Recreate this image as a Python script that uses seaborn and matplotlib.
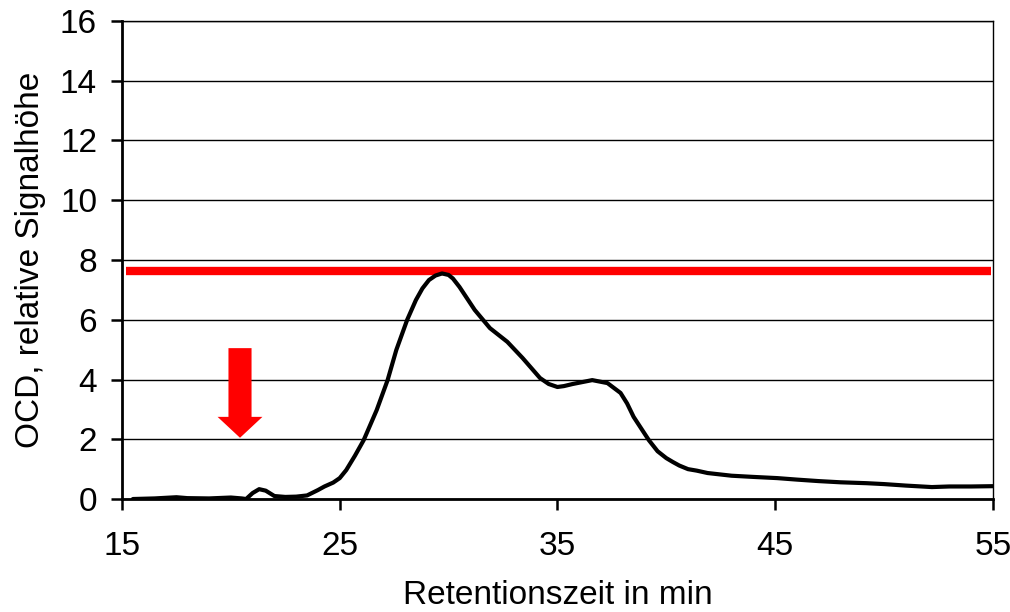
import matplotlib
matplotlib.use("Agg")
import matplotlib.pyplot as plt
import seaborn as sns
import pandas as pd
from matplotlib.patches import Polygon

# ---- data ----
retention_min = [15.5, 16.5, 17.5, 18.0, 19.0, 20.0, 20.5, 20.7, 21.0, 21.3, 21.6, 22.0,
                 22.5, 23.0, 23.5, 24.0, 24.3, 24.7, 25.0, 25.3, 25.7, 26.1, 26.7, 27.2,
                 27.6, 28.1, 28.5, 28.8, 29.1, 29.4, 29.7, 30.0, 30.2, 30.5, 31.2, 31.9,
                 32.7, 33.4, 34.2, 34.6, 35.0, 35.3, 35.7, 36.6, 37.3, 37.9, 38.2, 38.5,
                 39.2, 39.6, 40.0, 40.3, 40.6, 41.0, 41.4, 41.9, 43.0, 44.0, 45.1, 46.0,
                 47.0, 48.0, 49.2, 50.0, 51.0, 52.2, 53.0, 54.0, 55.0]
ocd_signal = [0.00, 0.02, 0.06, 0.03, 0.02, 0.05, 0.02, 0.00, 0.20, 0.33, 0.28, 0.10,
              0.07, 0.08, 0.12, 0.30, 0.42, 0.55, 0.70, 0.97, 1.45, 1.97, 2.98, 3.98,
              4.99, 6.00, 6.66, 7.05, 7.33, 7.48, 7.55, 7.50, 7.38, 7.10, 6.33, 5.72,
              5.26, 4.72, 4.05, 3.85, 3.75, 3.78, 3.85, 3.98, 3.88, 3.55, 3.20, 2.75,
              1.97, 1.60, 1.37, 1.24, 1.12, 1.00, 0.95, 0.87, 0.78, 0.74, 0.70, 0.65,
              0.60, 0.56, 0.53, 0.50, 0.45, 0.40, 0.42, 0.42, 0.43]

max_line_x = [15.2, 54.9]
max_line_y = [7.63, 7.63]

x_ticks = [15, 25, 35, 45, 55]
y_ticks = [0, 2, 4, 6, 8, 10, 12, 14, 16]

# arrow annotation (data coords): tip x, shaft top, head base, tip y, half widths
arrow_x = 20.42
arrow_top, arrow_head_base, arrow_tip = 5.05, 2.75, 2.05
arrow_shaft_half, arrow_head_half = 0.53, 1.03

sns.set_theme(style="white")
plt.rcParams["font.family"] = ["Liberation Sans", "DejaVu Sans"]

fig = plt.figure(figsize=(10.10, 6.12), dpi=100)
ax = fig.add_axes([0.1208, 0.1846, 0.983 - 0.1208, 0.9657 - 0.1846])

df = pd.DataFrame({"x": retention_min, "y": ocd_signal})
sns.lineplot(data=df, x="x", y="y", ax=ax, color="black", linewidth=3.0, zorder=4)
ax.lines[-1].set_solid_joinstyle("round")

df_max = pd.DataFrame({"x": max_line_x, "y": max_line_y})
sns.lineplot(data=df_max, x="x", y="y", ax=ax, color="#ff0000", linewidth=6.0, zorder=3)
ax.lines[-1].set_solid_capstyle("butt")

arrow = Polygon([
    (arrow_x - arrow_shaft_half, arrow_top),
    (arrow_x + arrow_shaft_half, arrow_top),
    (arrow_x + arrow_shaft_half, arrow_head_base),
    (arrow_x + arrow_head_half, arrow_head_base),
    (arrow_x, arrow_tip),
    (arrow_x - arrow_head_half, arrow_head_base),
    (arrow_x - arrow_shaft_half, arrow_head_base),
], closed=True, facecolor="#ff0000", edgecolor="none", zorder=5)
ax.add_patch(arrow)

ax.set_xlim(15, 55)
ax.set_ylim(0, 16)
ax.set_xticks(x_ticks)
ax.set_yticks(y_ticks)
ax.yaxis.grid(True, color="black", linewidth=1.0)
ax.xaxis.grid(False)
ax.set_axisbelow(True)

for side in ["left", "bottom"]:
    ax.spines[side].set_color("black")
    ax.spines[side].set_linewidth(2.0)
for side in ["top", "right"]:
    ax.spines[side].set_color("black")
    ax.spines[side].set_linewidth(1.0)

ax.tick_params(axis="both", which="major", direction="out", length=8, width=1.8,
               color="black", labelsize=24, labelcolor="black")
ax.tick_params(axis="x", pad=15, bottom=True)
ax.tick_params(axis="y", pad=10, left=True)

ax.set_xlabel("Retentionszeit in min", fontsize=24, color="black", labelpad=13)
ax.set_ylabel("OCD, relative Signalhöhe", fontsize=24, color="black", labelpad=10)

fig.savefig("out.png", dpi=100, facecolor="white")
